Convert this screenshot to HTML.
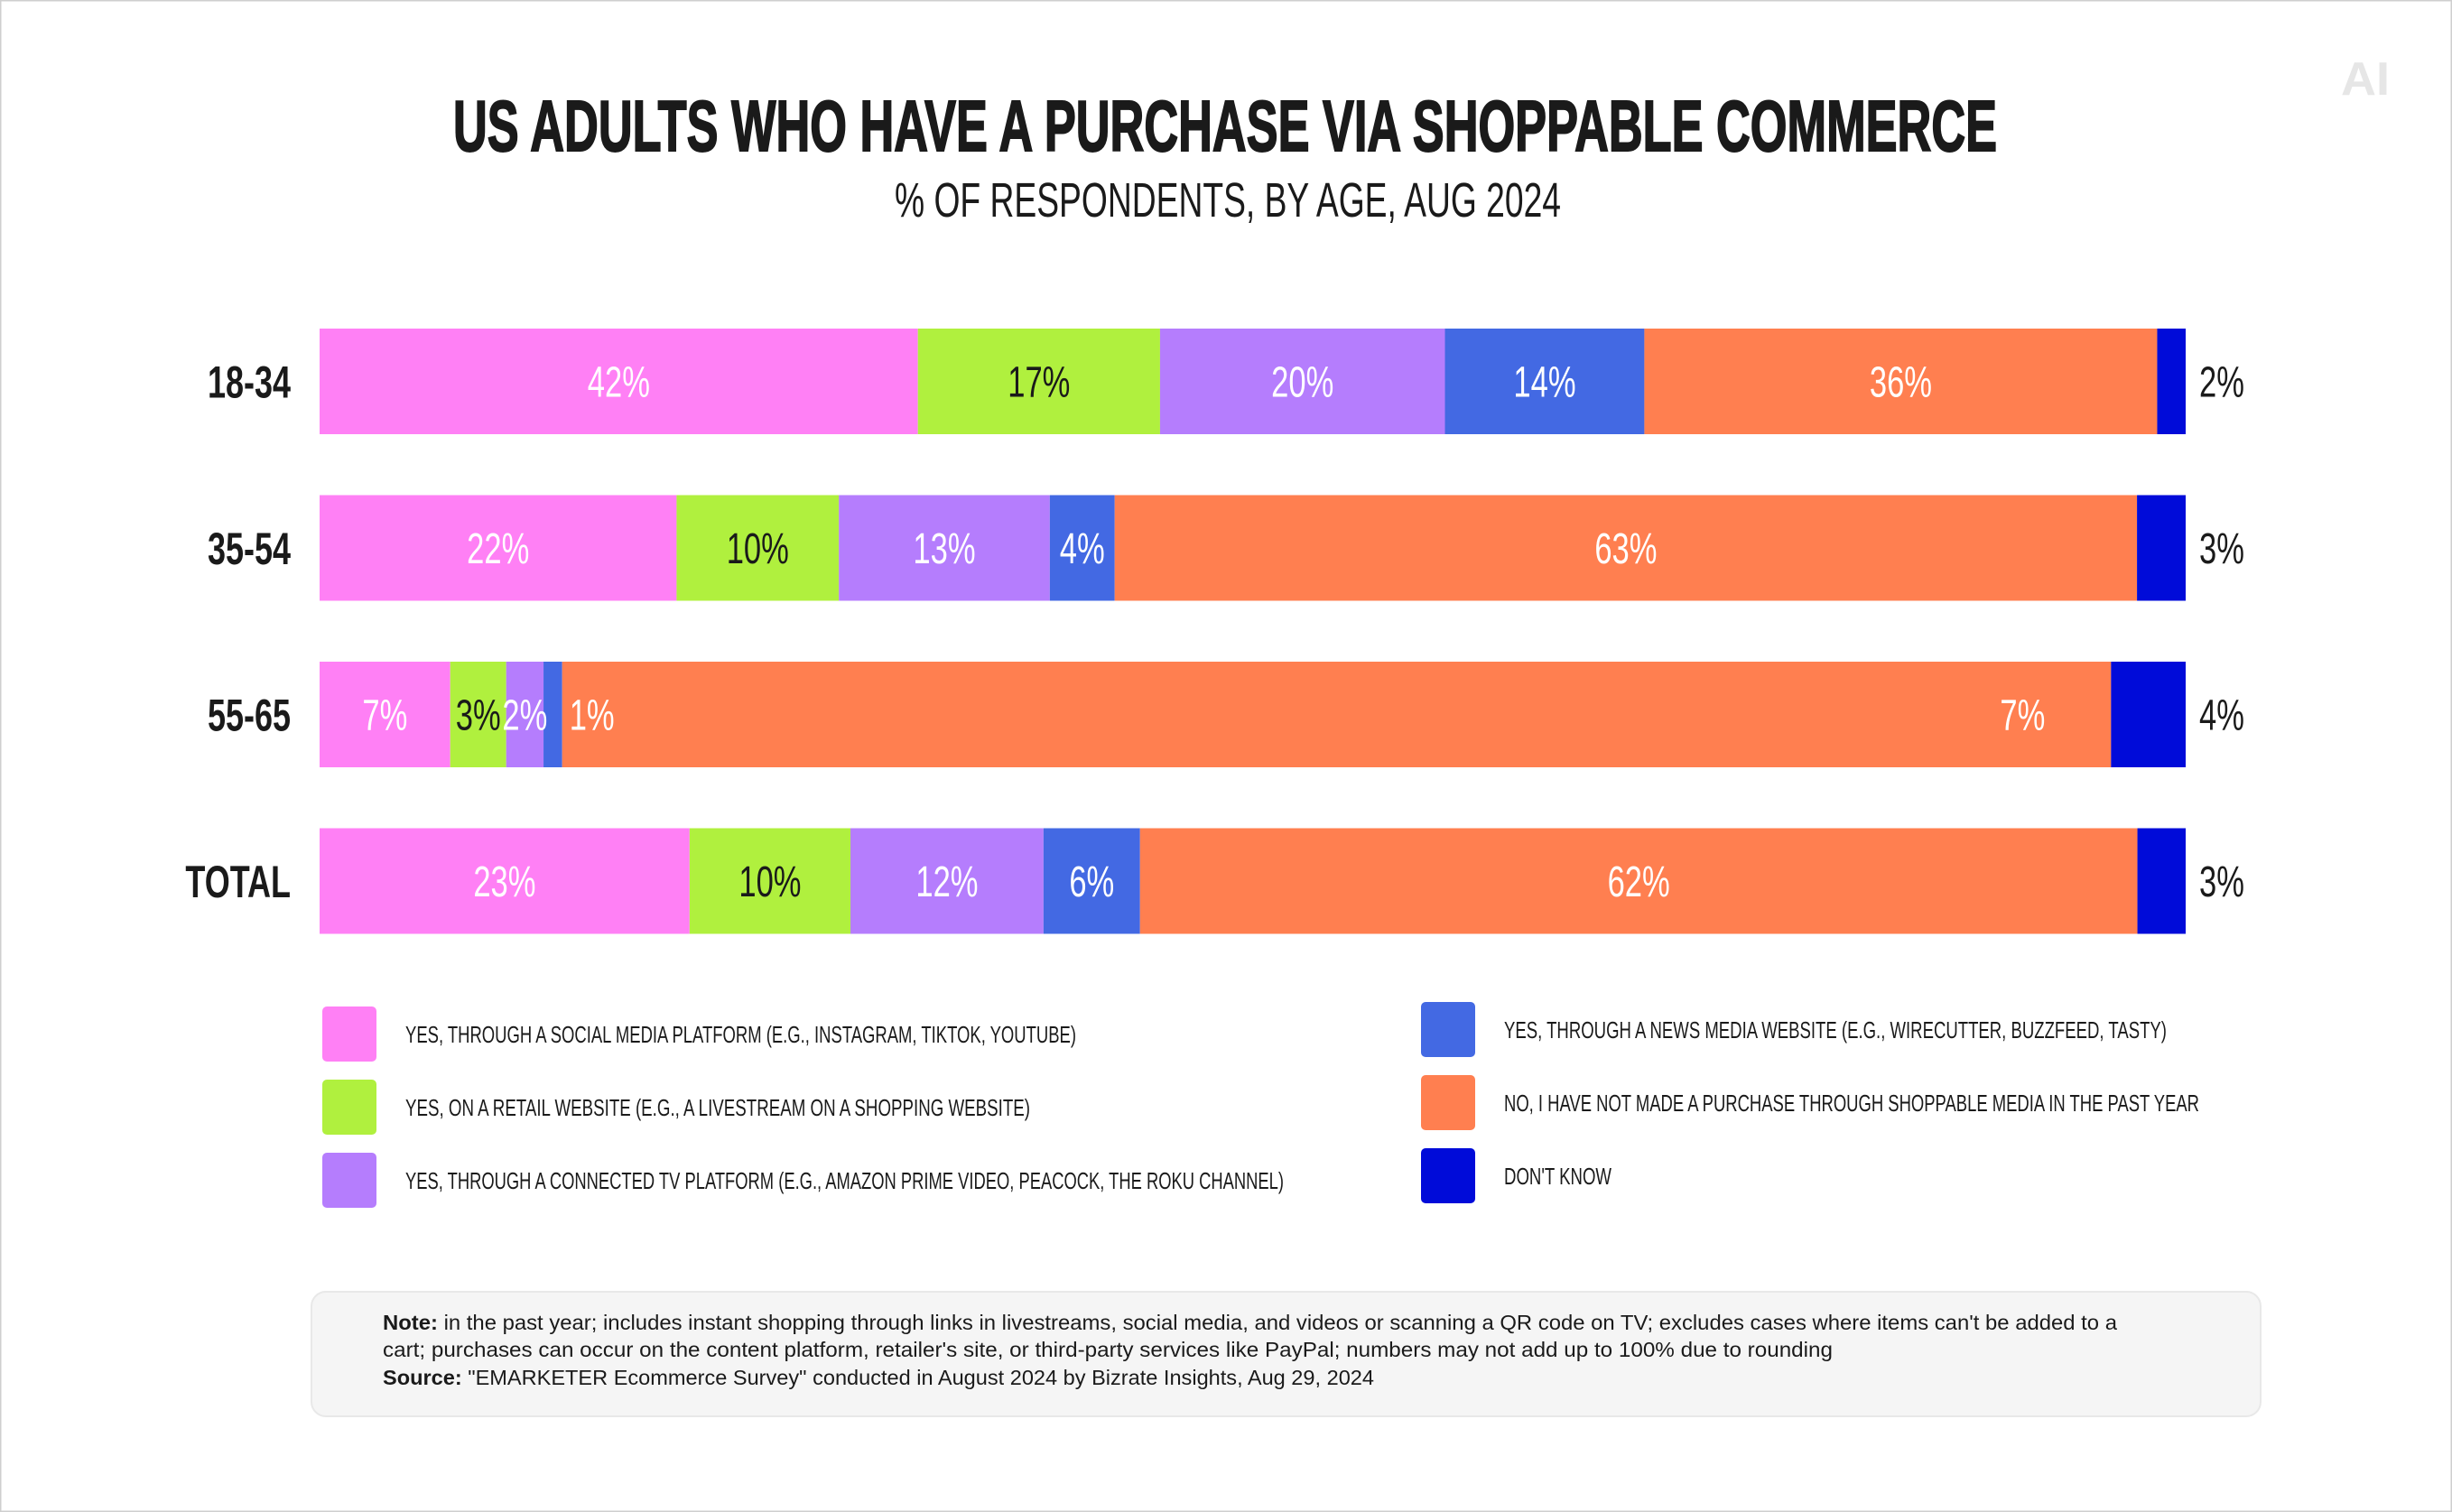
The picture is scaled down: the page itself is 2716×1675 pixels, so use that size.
<!DOCTYPE html>
<html><head><meta charset="utf-8"><style>
html,body{margin:0;padding:0;background:#fff}
svg{display:block}
text{font-family:"Liberation Sans",sans-serif}
</style></head><body>
<svg id="chart" width="2716" height="1675" viewBox="0 0 2716 1675">
<rect x="0.5" y="0.5" width="2715" height="1674" fill="#fff" stroke="#cfcfcf" stroke-width="2"/>
<text x="2620" y="105" font-size="52" font-weight="bold" fill="#e6e6e6" text-anchor="middle" textLength="54" lengthAdjust="spacingAndGlyphs">AI</text>
<text x="502" y="167" font-size="80" font-weight="bold" fill="#1a1a1a" stroke="#1a1a1a" stroke-width="2" textLength="1710" lengthAdjust="spacingAndGlyphs">US ADULTS WHO HAVE A PURCHASE VIA SHOPPABLE COMMERCE</text>
<text x="991" y="240" font-size="54" fill="#1a1a1a" textLength="738" lengthAdjust="spacingAndGlyphs">% OF RESPONDENTS, BY AGE, AUG 2024</text>
<g id="bars"></g>
<g id="labels"></g>
<g id="legend"></g>
<rect x="345" y="1431" width="2159" height="138" rx="16" fill="#f5f5f5" stroke="#e8e8e8" stroke-width="2"/>
<text x="424" y="1473" font-size="23" fill="#1a1a1a" textLength="1921" lengthAdjust="spacingAndGlyphs"><tspan font-weight="bold">Note:</tspan> in the past year; includes instant shopping through links in livestreams, social media, and videos or scanning a QR code on TV; excludes cases where items can't be added to a</text>
<text x="424" y="1503" font-size="23" fill="#1a1a1a" textLength="1606" lengthAdjust="spacingAndGlyphs">cart; purchases can occur on the content platform, retailer's site, or third-party services like PayPal; numbers may not add up to 100% due to rounding</text>
<text x="424" y="1534" font-size="23" fill="#1a1a1a" textLength="1098" lengthAdjust="spacingAndGlyphs"><tspan font-weight="bold">Source:</tspan> "EMARKETER Ecommerce Survey" conducted in August 2024 by Bizrate Insights, Aug 29, 2024</text>
</svg>
<script>
const categories = ["18-34","35-54","55-65","TOTAL"];
const seriesNames = ["YES, THROUGH A SOCIAL MEDIA PLATFORM (E.G., INSTAGRAM, TIKTOK, YOUTUBE)","YES, ON A RETAIL WEBSITE (E.G., A LIVESTREAM ON A SHOPPING WEBSITE)","YES, THROUGH A CONNECTED TV PLATFORM (E.G., AMAZON PRIME VIDEO, PEACOCK, THE ROKU CHANNEL)","YES, THROUGH A NEWS MEDIA WEBSITE (E.G., WIRECUTTER, BUZZFEED, TASTY)","NO, I HAVE NOT MADE A PURCHASE THROUGH SHOPPABLE MEDIA IN THE PAST YEAR","DON'T KNOW"];
const socialMedia = [42,22,7,23];
const retailSite = [17,10,3,10];
const connectedTv = [20,13,2,12];
const newsSite = [14,4,1,6];
const noPurchase = [36,63,83,62];
const dontKnow = [2,3,4,3];
const noPurchaseLabels = ["36%","63%","7%","62%"];

const series = [socialMedia,retailSite,connectedTv,newsSite,noPurchase,dontKnow];
const colors = ["#ff80f5","#b0f03e","#b57dfd","#4369e3","#ff7f50","#000bd9"];
const textColors = ["#fff","#1a1a1a","#fff","#fff","#fff","#fff"];
const NS = "http://www.w3.org/2000/svg";
const x0 = 354, barW = 2067, rowY0 = 364, rowPitch = 184.5, barH = 117;
const yPos = i => rowY0 + i*rowPitch;
const bars = document.getElementById('bars');
const labels = document.getElementById('labels');
function mk(tag, attrs){const e=document.createElementNS(NS,tag);for(const k in attrs)e.setAttribute(k,attrs[k]);return e;}

categories.forEach((cat,i)=>{
  const total = series.reduce((s,a)=>s+a[i],0);
  const xs = v => v/total*barW;
  const y = yPos(i);
  const lab = mk('text',{x:0,y:0,'font-size':50,'font-weight':'bold',fill:'#1a1a1a','text-anchor':'end',transform:`translate(322,${y+barH/2+18}) scale(0.72,1)`});
  
  
  lab.textContent = cat;
  labels.appendChild(lab);
  let cx = x0;
  series.forEach((arr,s)=>{
    const w = xs(arr[i]);
    const r = mk('rect',{x:cx,y:y,width:w,height:barH,fill:colors[s]});
    
    
    bars.appendChild(r);
    const label = s===4 ? noPurchaseLabels[i] : arr[i]+'%';
    let tx, anchor='middle', col=textColors[s];
    if (s===5){ tx = x0+barW+15; anchor='start'; col='#1a1a1a'; }
    else if (w < 30){ tx = cx+w+8; anchor='start'; col='#fff'; }
    else if (s===4 && i===2){ tx = cx+w-98; }
    else tx = cx+w/2;
    const t = mk('text',{x:0,y:0,'font-size':48,fill:col,'text-anchor':anchor,transform:`translate(${tx},${y+barH/2+17}) scale(0.72,1)`});
    
    
    t.textContent = label;
    labels.appendChild(t);
    cx += w;
  });
});

const legend = document.getElementById('legend');
const legendWidths = [743,692,973,734,770,119];
seriesNames.forEach((name,s)=>{
  const col = s<3?0:1, row = s%3;
  const sx = col===0?357:1574, sy = (col===0?1115:1110) + row*81;
  const r = mk('rect',{x:sx,y:sy,width:60,height:61,rx:5,fill:colors[s]});
  
  
  legend.appendChild(r);
  const t = mk('text',{x:sx+92,y:sy+40,'font-size':26,fill:'#1a1a1a',textLength:legendWidths[s],lengthAdjust:'spacingAndGlyphs'});
  
  
  t.textContent = name;
  legend.appendChild(t);
});
</script>
</body></html>
